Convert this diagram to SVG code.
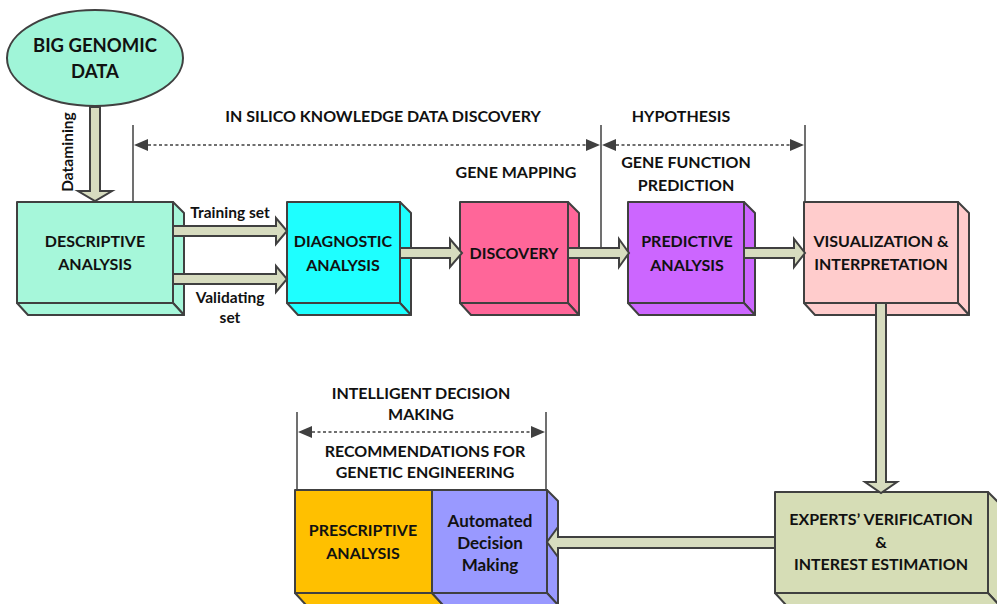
<svg xmlns="http://www.w3.org/2000/svg" width="997" height="604" viewBox="0 0 997 604">
<style>
  .box { stroke: #404040; stroke-width: 2; stroke-linejoin: round; }
  .arr { fill: #d7dcbf; stroke: #404040; stroke-width: 2; stroke-linejoin: miter; }
  .vl { stroke: #404040; stroke-width: 1.5; fill: none; }
  .dl { stroke: #404040; stroke-width: 1.5; stroke-dasharray: 3 2.5; fill: none; }
  .ah { fill: #404040; }
  text { font-family: Lato, "Open Sans", "Liberation Sans", sans-serif; font-weight: bold; fill: #111; text-anchor: middle; }
  .t15 { font-size: 16px; }
  .t17 { font-size: 17px; }
  .t14 { font-size: 15.5px; }
  .t20 { font-size: 18.5px; }
</style>
<rect width="997" height="604" fill="#ffffff"/>

<g id="big-genomic-data">
  <ellipse cx="95" cy="58" rx="88" ry="48" fill="#a0f5d8" class="box"/>
  <text class="t20" x="95" y="52">BIG GENOMIC</text>
  <text class="t20" x="95" y="78">DATA</text>
</g>

<g id="descriptive-analysis">
  <polygon class="box" fill="#a6f7da" points="173,202 184,213 184,315 173,303"/>
  <polygon class="box" fill="#a6f7da" points="17,303 173,303 184,315 28,315"/>
  <rect class="box" fill="#a6f7da" x="17" y="202" width="156" height="101"/>
  <text class="t15" x="95" y="247">DESCRIPTIVE</text>
  <text class="t15" x="95" y="270">ANALYSIS</text>
</g>

<g id="diagnostic-analysis">
  <polygon class="box" fill="#1effff" points="400,202 411,213 411,315 400,303"/>
  <polygon class="box" fill="#1effff" points="287,303 400,303 411,315 298,315"/>
  <rect class="box" fill="#1effff" x="287" y="202" width="113" height="101"/>
  <text class="t15" x="343" y="247">DIAGNOSTIC</text>
  <text class="t15" x="343" y="271">ANALYSIS</text>
</g>

<g id="discovery">
  <polygon class="box" fill="#ff6699" points="568,202 579,213 579,315 568,303"/>
  <polygon class="box" fill="#ff6699" points="460,303 568,303 579,315 471,315"/>
  <rect class="box" fill="#ff6699" x="460" y="202" width="108" height="101"/>
  <text class="t15" x="514" y="259">DISCOVERY</text>
</g>

<g id="predictive-analysis">
  <polygon class="box" fill="#cc66ff" points="744,202 755,213 755,315 744,303"/>
  <polygon class="box" fill="#cc66ff" points="628,303 744,303 755,315 639,315"/>
  <rect class="box" fill="#cc66ff" x="628" y="202" width="116" height="101"/>
  <text class="t15" x="687" y="247">PREDICTIVE</text>
  <text class="t15" x="687" y="271">ANALYSIS</text>
</g>

<g id="visualization-interpretation">
  <polygon class="box" fill="#ffcccc" points="958,202 969,213 969,315 958,303"/>
  <polygon class="box" fill="#ffcccc" points="804,303 958,303 969,315 815,315"/>
  <rect class="box" fill="#ffcccc" x="804" y="202" width="154" height="101"/>
  <text class="t15" x="881" y="247">VISUALIZATION &amp;</text>
  <text class="t15" x="881" y="270">INTERPRETATION</text>
</g>

<g id="experts-verification">
  <polygon class="box" fill="#d6ddb6" points="988,492 999,503 999,605 988,593"/>
  <polygon class="box" fill="#d6ddb6" points="775,593 988,593 999,605 786,605"/>
  <rect class="box" fill="#d6ddb6" x="775" y="492" width="213" height="101"/>
  <text class="t15" x="881" y="525">EXPERTS’ VERIFICATION</text>
  <text class="t15" x="881" y="548">&amp;</text>
  <text class="t15" x="881" y="570">INTEREST ESTIMATION</text>
</g>

<g id="prescriptive-analysis">
  <polygon class="box" fill="#ffc000" points="295,593 432,593 443,605 306,605"/>
  <rect class="box" fill="#ffc000" x="295" y="490" width="137" height="103"/>
  <text class="t15" x="363" y="536">PRESCRIPTIVE</text>
  <text class="t15" x="363" y="559">ANALYSIS</text>
</g>

<g id="automated-decision-making">
  <polygon class="box" fill="#9999ff" points="547,490 558,501 558,605 547,593"/>
  <polygon class="box" fill="#9999ff" points="432,593 547,593 558,605 443,605"/>
  <rect class="box" fill="#9999ff" x="432" y="490" width="115" height="103"/>
  <text class="t17" x="490" y="527">Automated</text>
  <text class="t17" x="490" y="549">Decision</text>
  <text class="t17" x="490" y="571">Making</text>
</g>

<g id="connectors">
  <path class="arr" d="M90,107 L100,107 L100,191 L112,191 L95,201 L78,191 L90,191 Z"/>
  <path class="arr" d="M173,226 L276,226 L276,218 L287,231 L276,244 L276,236 L173,236 Z"/>
  <path class="arr" d="M173,274 L276,274 L276,266 L287,279 L276,292 L276,284 L173,284 Z"/>
  <path class="arr" d="M400,248 L450,248 L450,239 L462,253 L450,267 L450,258 L400,258 Z"/>
  <path class="arr" d="M568,248 L619,248 L619,239 L629,253 L619,267 L619,258 L568,258 Z"/>
  <path class="arr" d="M744,248 L794,248 L794,239 L805,253 L794,267 L794,258 L744,258 Z"/>
  <path class="arr" d="M876,303 L886,303 L886,482 L897,482 L881,493 L865,482 L876,482 Z"/>
  <path class="arr" d="M775,537 L558,537 L558,527 L547,542 L558,557 L558,548 L775,548 Z"/>

  <line class="vl" x1="133" y1="125" x2="133" y2="202"/>
  <line class="vl" x1="601" y1="125" x2="601" y2="248"/>
  <line class="vl" x1="805" y1="125" x2="805" y2="202"/>
  <line class="vl" x1="297" y1="412" x2="297" y2="490"/>
  <line class="vl" x1="546" y1="412" x2="546" y2="490"/>

  <line class="dl" x1="148" y1="145" x2="590" y2="145"/>
  <polygon class="ah" points="134,145 148,139 148,151"/>
  <polygon class="ah" points="600,145 586,139 586,151"/>
  <line class="dl" x1="616" y1="145" x2="792" y2="145"/>
  <polygon class="ah" points="602,145 616,139 616,151"/>
  <polygon class="ah" points="804,145 790,139 790,151"/>
  <line class="dl" x1="312" y1="432" x2="532" y2="432"/>
  <polygon class="ah" points="298,432 312,426 312,438"/>
  <polygon class="ah" points="545,432 531,426 531,438"/>

  <text class="t14" x="230" y="218">Training set</text>
  <text class="t14" x="230" y="303">Validating</text>
  <text class="t14" x="230" y="323">set</text>
  <text class="t14" x="0" y="0" transform="translate(73,152) rotate(-90)">Datamining</text>
</g>

<g id="labels">
  <text class="t15" x="383" y="122">IN SILICO KNOWLEDGE DATA DISCOVERY</text>
  <text class="t15" x="681" y="122">HYPOTHESIS</text>
  <text class="t15" x="686" y="168">GENE FUNCTION</text>
  <text class="t15" x="686" y="191">PREDICTION</text>
  <text class="t15" x="516" y="178">GENE MAPPING</text>
  <text class="t15" x="421" y="399">INTELLIGENT DECISION</text>
  <text class="t15" x="421" y="420">MAKING</text>
  <text class="t15" x="425" y="457">RECOMMENDATIONS FOR</text>
  <text class="t15" x="425" y="478">GENETIC ENGINEERING</text>
</g>
</svg>
